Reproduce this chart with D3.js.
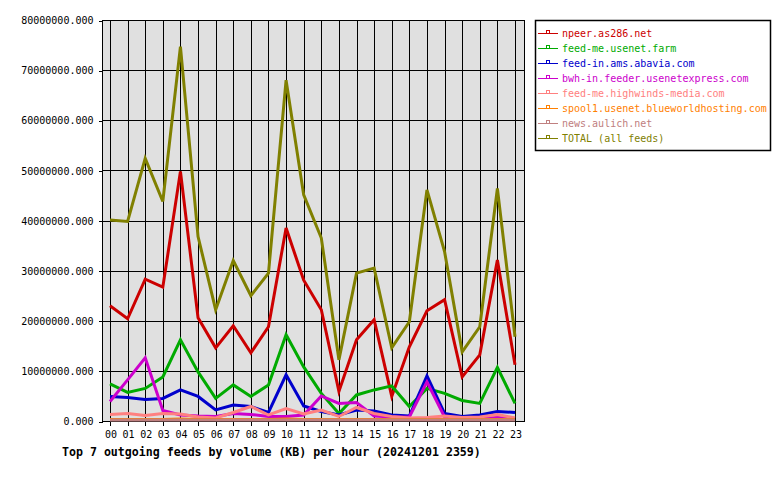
<!DOCTYPE html>
<html><head><meta charset="utf-8">
<script src="https://cdn.jsdelivr.net/npm/d3@7"></script>
<style>body{margin:0;background:#fff;}svg{display:block;}</style>
</head><body>
<script>
const hours = ["00","01","02","03","04","05","06","07","08","09","10","11","12","13","14","15","16","17","18","19","20","21","22","23"];
const yTicks = [0,10000000,20000000,30000000,40000000,50000000,60000000,70000000,80000000];
const seriesNames = ["npeer.as286.net","feed-me.usenet.farm","feed-in.ams.abavia.com","bwh-in.feeder.usenetexpress.com","feed-me.highwinds-media.com","spool1.usenet.blueworldhosting.com","news.aulich.net","TOTAL (all feeds)"];
const seriesColors = ["#cc0000","#00aa00","#0000cc","#cc00cc","#ff8080","#ff8000","#c08080","#808000"];
const npeer = [23.0,20.4,28.3,26.7,49.8,20.6,14.6,19.0,13.6,18.8,38.5,28.1,22.2,5.9,16.2,20.2,4.9,14.8,22.0,24.2,8.8,13.2,32.1,11.2];
const usenetFarm = [7.4,5.7,6.5,8.8,16.2,9.8,4.5,7.2,4.9,7.2,17.2,10.8,5.5,1.5,5.2,6.2,7.0,2.9,6.5,5.5,4.1,3.5,10.7,3.5];
const abavia = [4.9,4.7,4.3,4.5,6.2,4.9,2.2,3.2,2.9,1.7,9.2,3.0,1.9,1.2,2.2,2.0,1.2,1.0,9.0,1.5,0.9,1.2,1.9,1.7];
const bwh = [3.9,8.2,12.6,2.1,1.2,1.0,0.9,1.5,1.3,0.9,0.9,1.2,5.0,3.5,3.7,1.0,0.8,0.8,7.8,0.8,0.6,0.5,0.7,0.5];
const highwinds = [1.3,1.5,1.1,1.5,1.4,0.8,0.6,1.7,2.9,1.2,2.5,1.4,2.2,0.9,2.7,1.5,0.9,0.6,0.7,1.0,0.7,0.8,1.3,0.6];
const spool1 = [0.3,0.3,0.3,0.3,0.4,0.3,0.3,0.3,0.3,0.3,0.4,0.3,0.3,0.3,0.3,0.3,0.3,0.3,0.3,0.3,0.3,0.3,0.3,0.3];
const aulich = [0.2,0.2,0.2,0.2,0.2,0.2,0.2,0.2,0.2,0.2,0.2,0.2,0.2,0.2,0.2,0.2,0.2,0.2,0.2,0.2,0.2,0.2,0.2,0.2];
const total = [40.1,39.8,52.4,43.8,74.7,36.8,22.2,32.0,25.0,29.5,68.0,45.1,36.5,12.2,29.5,30.5,14.6,19.8,46.1,33.8,13.8,18.8,46.4,16.8];
const seriesValues = [npeer,usenetFarm,abavia,bwh,highwinds,spool1,aulich,total];
const titleText = "Top 7 outgoing feeds by volume (KB) per hour (20241201 2359)";

const W=780,H=480;
const L=102,R=524,T=20,B=421;
const svg=d3.select("body").append("svg").attr("width",W).attr("height",H);
const font="'DejaVu Sans Mono', monospace";

const x=d3.scalePoint().domain(hours).range([110,515]);
const y=d3.scaleLinear().domain([0,80000000]).range([B,T]);

svg.append("rect").attr("x",L).attr("y",T).attr("width",R-L).attr("height",B-T).attr("fill","#e0e0e0");

const g=svg.append("g").attr("shape-rendering","crispEdges");
// gridlines
g.selectAll("line.h").data(yTicks).enter().append("line")
 .attr("x1",L).attr("x2",R).attr("y1",d=>Math.round(y(d))+0.5).attr("y2",d=>Math.round(y(d))+0.5)
 .attr("stroke","#000");
g.selectAll("line.v").data(hours).enter().append("line")
 .attr("x1",d=>Math.round(x(d))+0.5).attr("x2",d=>Math.round(x(d))+0.5).attr("y1",T).attr("y2",B+5)
 .attr("stroke","#000");
g.append("rect").attr("x",L+0.5).attr("y",T+0.5).attr("width",R-L).attr("height",B-T).attr("fill","none").attr("stroke","#000");

// y axis
const yAxis=d3.axisLeft(y).tickValues(yTicks).tickSize(4).tickPadding(5).tickFormat(d=>d.toFixed(3));
const ya=svg.append("g").attr("transform",`translate(${L+0.5},0.5)`).call(yAxis);
ya.select(".domain").remove();
ya.selectAll("text").attr("font-family",font).attr("font-size",10).attr("fill","#000");
ya.selectAll("line").attr("shape-rendering","crispEdges");

// x labels
const xAxis=d3.axisBottom(x).tickSize(0).tickPadding(10);
const xa=svg.append("g").attr("transform",`translate(0.5,${B})`).call(xAxis);
xa.select(".domain").remove();
xa.selectAll("text").attr("font-family",font).attr("font-size",10).attr("fill","#000");

// lines
const line=d3.line().x((d,i)=>x(hours[i])).y(d=>y(d*1000000));
seriesValues.forEach((vals,si)=>{
  svg.append("path").datum(vals).attr("d",line).attr("fill","none")
   .attr("stroke",seriesColors[si]).attr("stroke-width",3).attr("stroke-linejoin","miter");
});

// title
svg.append("text").attr("x",62).attr("y",456).attr("font-family",font).attr("font-weight","bold")
 .attr("font-size",11.6).attr("fill","#000").text(titleText);

// legend
svg.append("rect").attr("x",535.5).attr("y",20.5).attr("width",235).attr("height",130)
 .attr("fill","#fff").attr("stroke","#000").attr("stroke-width",1.5);
const lg=svg.append("g");
seriesNames.forEach((n,i)=>{
  const yy=33+i*15;
  lg.append("line").attr("x1",538).attr("x2",558).attr("y1",yy+0.5).attr("y2",yy+0.5)
    .attr("stroke",seriesColors[i]).attr("shape-rendering","crispEdges");
  lg.append("rect").attr("x",546.5).attr("y",yy-2.5).attr("width",3).attr("height",3)
    .attr("fill","none").attr("stroke",seriesColors[i]).attr("shape-rendering","crispEdges");
  lg.append("text").attr("x",562).attr("y",yy+4).attr("font-family",font).attr("font-size",10)
    .attr("fill",seriesColors[i]).text(n);
});
</script>
</body></html>
